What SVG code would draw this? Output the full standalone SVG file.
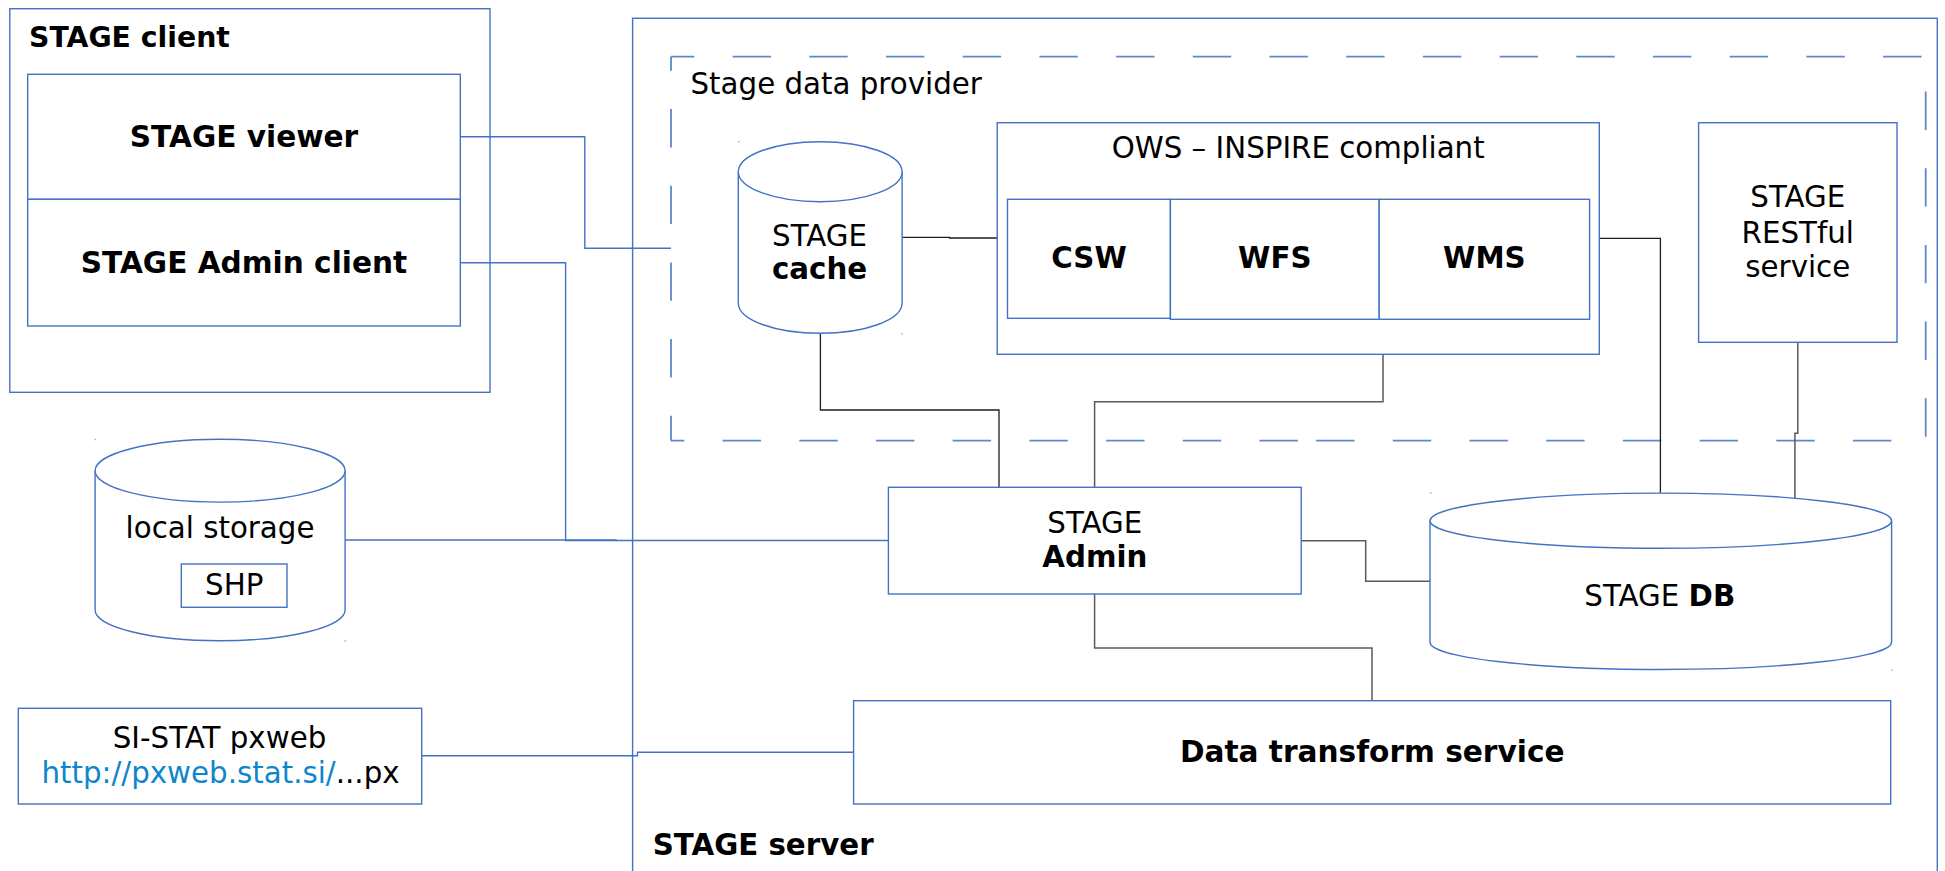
<svg xmlns="http://www.w3.org/2000/svg" width="1945" height="871" viewBox="0 0 1945 871">
  <style>
    .box { fill: #ffffff; stroke: #4472c4; stroke-width: 1.4; }
    .frame { fill: none; stroke: #4472c4; stroke-width: 1.4; }
    .dash { fill: none; stroke: #5f87cb; stroke-width: 1.8; stroke-dasharray: 38.4 38.3; }
    .wire-blue { fill: none; stroke: #4472c4; stroke-width: 1.4; }
    .wire-dark { fill: none; stroke: #1e1e1e; stroke-width: 1.3; }
    .wire-grey { fill: none; stroke: #5a5a5a; stroke-width: 1.5; }
    .mark { fill: #4472c4; opacity: 0.6; }
    text { font-family: "DejaVu Sans", "Liberation Sans", sans-serif; font-size: 29.3px; fill: #000000; }
    .c { text-anchor: middle; }
    .b { font-weight: bold; }
    .bl { font-weight: bold; font-size: 29.6px; }
    .title { font-weight: bold; font-size: 28.3px; }
    .link { fill: #0f86cc; }
  </style>

  <rect width="1945" height="871" fill="#ffffff"/>

  <!-- STAGE server container (runs past the bottom edge) -->
  <g id="stage-server">
    <rect class="frame" x="632.6" y="18.3" width="1304.7" height="900"/>
    <text class="b" x="652.7" y="855">STAGE server</text>
  </g>

  <!-- Stage data provider: dashed boundary, one line per side -->
  <g id="stage-data-provider">
    <line class="dash" x1="671" y1="56.7" x2="1925.7" y2="56.7" stroke-dashoffset="15.1"/>
    <line class="dash" x1="1925.7" y1="56.7" x2="1925.7" y2="440.7" stroke-dashoffset="41.9"/>
    <line class="dash" x1="1925.7" y1="440.7" x2="1305" y2="440.7" stroke-dashoffset="42.4"/>
    <line class="dash" x1="671" y1="440.7" x2="1300" y2="440.7" stroke-dashoffset="25.1"/>
    <line class="dash" x1="671" y1="56.7" x2="671" y2="440.7" stroke-dashoffset="24.4"/>
    <text x="690.5" y="94.2">Stage data provider</text>
  </g>

  <!-- STAGE client container -->
  <g id="stage-client">
    <rect class="frame" x="9.8" y="8.7" width="480.2" height="383.6"/>
    <text class="title" x="29" y="46.7">STAGE client</text>
  </g>

  <!-- connectors -->
  <g id="connectors">
    <path class="wire-blue" d="M460.3 136.7 H584.8 V248.3 H671"/>
    <path class="wire-blue" d="M460.3 262.7 H565.6 V540.5 H888.4"/>
    <path class="wire-blue" d="M345.1 540 H616 V540.5"/>
    <path class="wire-blue" d="M421.7 755.8 H637.5 V752.3 H853.6"/>
    <path class="wire-dark" d="M902.1 237.3 H949.5 V238 H997.2"/>
    <path class="wire-dark" d="M820.4 333.3 V410 H999 V487.3"/>
    <path class="wire-grey" d="M1383 354.3 V401.7 H1094.6 V487.3"/>
    <path class="wire-dark" d="M1599.3 238.3 H1660.4 V492.7"/>
    <path class="wire-grey" d="M1797.8 342.3 V433.3 H1794.9 V499.3"/>
    <path class="wire-grey" d="M1301.2 540.7 H1365.7 V581.2 H1430"/>
    <path class="wire-grey" d="M1094.6 594 V648 H1372 V700.7"/>
  </g>

  <!-- STAGE viewer -->
  <g id="stage-viewer">
    <rect class="box" x="27.7" y="74.3" width="432.6" height="125"/>
    <text class="c bl" x="244" y="146.7">STAGE viewer</text>
  </g>

  <!-- STAGE Admin client -->
  <g id="stage-admin-client">
    <rect class="box" x="27.7" y="199.3" width="432.6" height="126.7"/>
    <text class="c bl" x="244" y="272.7">STAGE Admin client</text>
  </g>

  <!-- STAGE cache -->
  <g id="stage-cache">
    <path class="box" d="M738.3 171.7 V303.3 A81.9 30 0 0 0 902.1 303.3 V171.7"/>
    <ellipse class="box" cx="820.2" cy="171.7" rx="81.9" ry="30"/>
    <rect class="mark" x="738" y="141" width="1.4" height="1.4"/>
    <rect class="mark" x="901.5" y="333" width="1.4" height="1.4"/>
    <text class="c" x="819.6" y="245.7">STAGE</text>
    <text class="c b" x="819.6" y="279.3">cache</text>
  </g>

  <!-- OWS – INSPIRE compliant -->
  <g id="ows">
    <rect class="box" x="997.2" y="122.7" width="602.1" height="231.6"/>
    <text class="c" x="1298.2" y="158.3">OWS – INSPIRE compliant</text>
  </g>
  <g id="csw">
    <rect class="box" x="1007.5" y="199.3" width="162.9" height="119"/>
    <text class="c b" x="1089" y="268.3">CSW</text>
  </g>
  <g id="wfs">
    <rect class="box" x="1170.4" y="199.3" width="208.8" height="120"/>
    <text class="c b" x="1274.8" y="268.3">WFS</text>
  </g>
  <g id="wms">
    <rect class="box" x="1379.2" y="199.3" width="210.4" height="120"/>
    <text class="c b" x="1484.4" y="268.3">WMS</text>
  </g>

  <!-- STAGE RESTful service -->
  <g id="stage-restful">
    <rect class="box" x="1698.6" y="122.7" width="198.4" height="219.6"/>
    <text class="c" x="1797.8" y="207.3">STAGE</text>
    <text class="c" x="1797.8" y="242.5">RESTful</text>
    <text class="c" x="1797.8" y="276.7">service</text>
  </g>

  <!-- local storage -->
  <g id="local-storage">
    <path class="box" d="M95.1 470.7 V610 A125 30.7 0 0 0 345.1 610 V470.7"/>
    <ellipse class="box" cx="220.1" cy="470.7" rx="125" ry="31.4"/>
    <rect class="mark" x="94.6" y="438.8" width="1.4" height="1.4"/>
    <rect class="mark" x="344.6" y="640.2" width="1.4" height="1.4"/>
    <text class="c" x="220" y="538.3">local storage</text>
  </g>
  <g id="shp">
    <rect class="box" x="181.3" y="564" width="105.7" height="43.3"/>
    <text class="c" x="234.2" y="595">SHP</text>
  </g>

  <!-- STAGE Admin -->
  <g id="stage-admin">
    <rect class="box" x="888.4" y="487.3" width="412.8" height="106.7"/>
    <text class="c" x="1094.8" y="533.3">STAGE</text>
    <text class="c b" x="1094.8" y="567.3">Admin</text>
  </g>

  <!-- STAGE DB -->
  <g id="stage-db">
    <path class="box" d="M1430 520.7 V642.3 A230.8 27.2 0 0 0 1891.6 642.3 V520.7"/>
    <ellipse class="box" cx="1660.8" cy="520.7" rx="230.8" ry="27.6"/>
    <rect class="mark" x="1430" y="492.2" width="1.4" height="1.4"/>
    <rect class="mark" x="1891.2" y="669.5" width="1.4" height="1.4"/>
    <text class="c" x="1659.8" y="605.5">STAGE <tspan class="b">DB</tspan></text>
  </g>

  <!-- SI-STAT pxweb -->
  <g id="si-stat">
    <rect class="box" x="18.3" y="708.3" width="403.4" height="95.7"/>
    <text class="c" x="219.5" y="748.3">SI-STAT pxweb</text>
    <text class="c" x="220.5" y="783.3"><tspan class="link">http://pxweb.stat.si/</tspan>...px</text>
  </g>

  <!-- Data transform service -->
  <g id="data-transform">
    <rect class="box" x="853.6" y="700.7" width="1037.1" height="103.3"/>
    <text class="c bl" x="1372.2" y="762.3">Data transform service</text>
  </g>
</svg>
